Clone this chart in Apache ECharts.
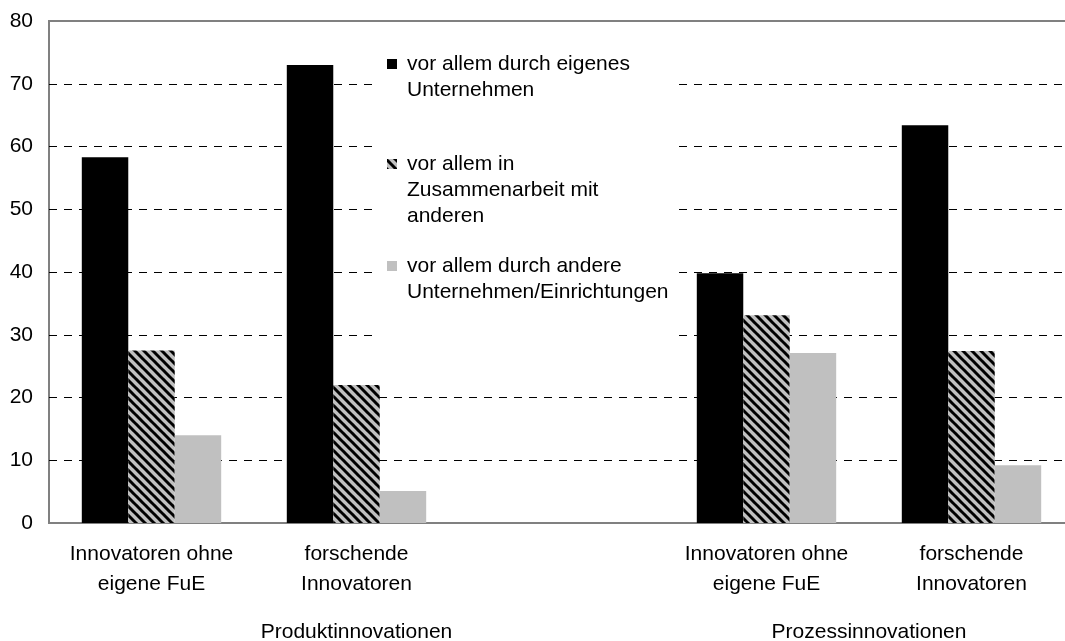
<!DOCTYPE html>
<html>
<head>
<meta charset="utf-8">
<script src="https://cdn.jsdelivr.net/npm/echarts@6/dist/echarts.min.js"></script>
<style>
  html, body { margin: 0; background: #fff; }
  #chart { width: 1065px; height: 641px; }
</style>
</head>
<body>
<div id="chart"></div>
<script>
// categories, the third one is the empty gap between both groups
const categories = ['Innovatoren ohne\neigene FuE', 'forschende\nInnovatoren', '', 'Innovatoren ohne\neigene FuE', 'forschende\nInnovatoren']

// outer labels and which categories they span
const groupNames = ['Produktinnovationen', 'Prozessinnovationen']
const groupFrom = [0, 3]
const groupTo = [2, 4]

const seriesNames = [
    'vor allem durch eigenes\nUnternehmen',
    'vor allem in\nZusammenarbeit mit\nanderen',
    'vor allem durch andere\nUnternehmen/Einrichtungen'
]
const eigenes = [58.3, 73.0, null, 39.8, 63.4]
const zusammen = [27.5, 22.0, null, 33.1, 27.4]
const andere = [14.0, 5.1, null, 27.1, 9.2]

const yMin = 0
const yMax = 80
const yStep = 10

const font = '"Liberation Sans", Arial, sans-serif'
const lineH = 26

// hatched fill: grey with black diagonal stripes
const makeHatch = () => {
    const p = 9
    const c = document.createElement('canvas')
    c.width = p
    c.height = p
    const ctx = c.getContext('2d')
    ctx.fillStyle = '#c0c0c0'
    ctx.fillRect(0, 0, p, p)
    ctx.strokeStyle = '#000'
    ctx.lineWidth = 3
    for (const x0 of [-p, 0, p]) {
        ctx.beginPath()
        ctx.moveTo(x0 - 1, -1)
        ctx.lineTo(x0 + p + 1, p + 1)
        ctx.stroke()
    }
    return { image: c, repeat: 'repeat' }
}

// legend square sits next to the first text line, the rest of the icon box is empty
const legendIcon = (lines) => {
    const h = lineH * lines
    return 'path://M0,8H10V18H0Z M0,0L0,' + h
}

// the group axis has points on every category edge and center (boundaryGap false)
const groupAxisData = Array.from({ length: categories.length * 2 + 1 }, () => '')
groupNames.forEach((name, i) => {
    groupAxisData[groupFrom[i] + groupTo[i] + 1] = name
})

const chart = echarts.init(document.getElementById('chart'))

const colors = ['#000000', makeHatch(), '#c0c0c0']
const values = [eigenes, zusammen, andere]
const legendTops = [51, 151, 253]

const option = {
    animation: false,
    textStyle: { fontFamily: font },
    grid: {
        left: 49,
        right: -9,
        top: 21,
        bottom: 118,
        outerBoundsMode: 'none',
        show: true,
        borderColor: '#808080',
        borderWidth: 2
    },
    graphic: [
        {
            // white box behind the legend, hides the grid lines there
            type: 'rect',
            z: 1,
            shape: { x: 378, y: 40, width: 301, height: 305 },
            style: { fill: '#fff' }
        }
    ],
    legend: seriesNames.map((name, i) => {
        const lines = name.split('\n').length
        return {
            data: [name],
            left: 387,
            top: legendTops[i],
            padding: 0,
            itemWidth: 10,
            itemHeight: lineH * lines,
            icon: legendIcon(lines),
            selectedMode: false,
            textStyle: {
                fontFamily: font,
                fontSize: 21,
                lineHeight: lineH,
                color: '#000',
                padding: [0, 0, 0, 5]
            }
        }
    }),
    xAxis: [
        {
            type: 'category',
            data: categories,
            axisLine: { show: false },
            axisTick: { show: false },
            axisLabel: {
                interval: 0,
                margin: 16,
                fontFamily: font,
                fontSize: 21,
                lineHeight: 30,
                color: '#000'
            }
        },
        {
            type: 'category',
            data: groupAxisData,
            boundaryGap: false,
            position: 'bottom',
            axisLine: { show: false },
            axisTick: { show: false },
            splitLine: { show: false },
            axisLabel: {
                interval: 0,
                margin: 94,
                fontFamily: font,
                fontSize: 21,
                lineHeight: 30,
                color: '#000'
            }
        }
    ],
    yAxis: {
        type: 'value',
        min: yMin,
        max: yMax,
        interval: yStep,
        axisLine: { show: false },
        axisTick: { show: false },
        axisLabel: {
            margin: 16,
            fontFamily: font,
            fontSize: 21,
            color: '#000'
        },
        splitLine: {
            show: true,
            showMinLine: false,
            showMaxLine: false,
            lineStyle: { color: '#000', width: 1, type: [8, 7] }
        }
    },
    series: seriesNames.map((name, i) => ({
        name: name,
        type: 'bar',
        xAxisIndex: 0,
        barGap: '0%',
        barCategoryGap: '32%',
        itemStyle: { color: colors[i] },
        data: values[i]
    }))
}

chart.setOption(option)
</script>
</body>
</html>
